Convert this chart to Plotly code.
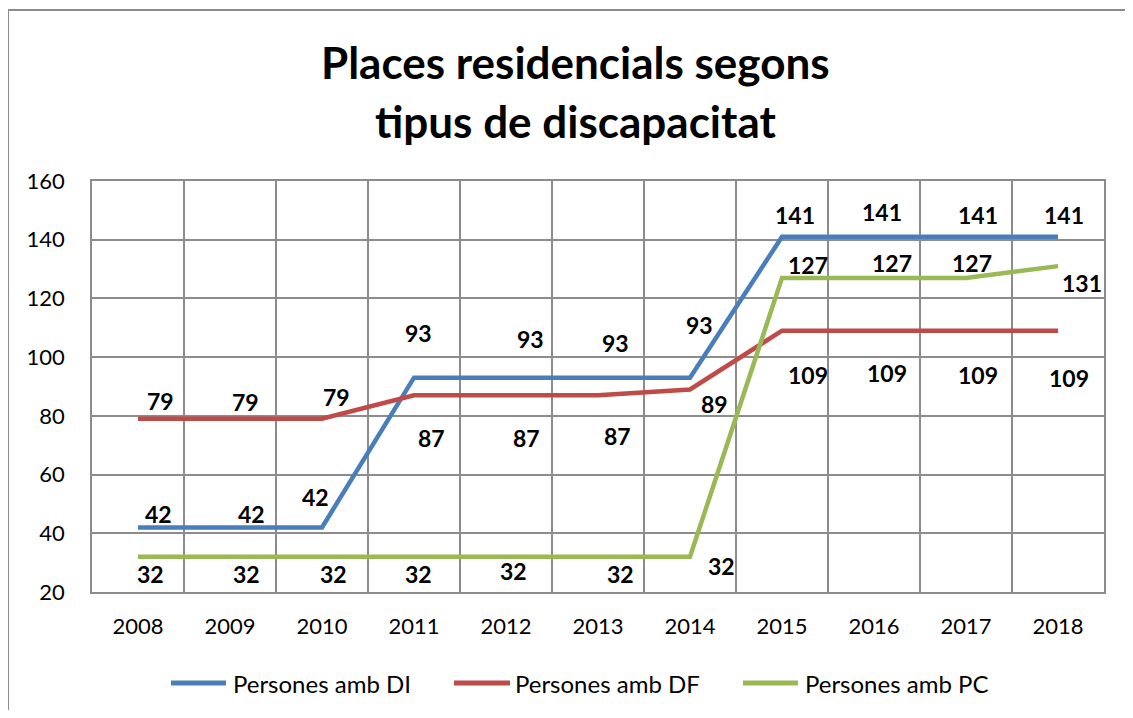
import plotly.graph_objects as go

years = ["2008", "2009", "2010", "2011", "2012", "2013", "2014", "2015", "2016", "2017", "2018"]
di_values = [42, 42, 42, 93, 93, 93, 93, 141, 141, 141, 141]
df_values = [79, 79, 79, 87, 87, 87, 89, 109, 109, 109, 109]
pc_values = [32, 32, 32, 32, 32, 32, 32, 127, 127, 127, 131]
series_names = ["Persones amb DI", "Persones amb DF", "Persones amb PC"]
title_lines = ["Places residencials segons", "tipus de discapacitat"]
y_ticks = [20, 40, 60, 80, 100, 120, 140, 160]

# label offsets in pixels (dx right, dy down) relative to each point
di_off = [(20, -13), (21, -13), (-7, -30), (4, -45), (24, -39), (17, -35), (9, -53),
          (13, -22), (8, -25), (12, -22), (6, -22)]
df_off = [(22, -18), (15, -17), (14, -22), (17, 43), (20, 43), (19, 41), (24, 15),
          (26, 44), (13, 42), (12, 44), (11, 47)]
pc_off = [(12, 17), (16, 17), (11, 17), (4, 17), (7, 14), (22, 17), (31, 9),
          (26, -13), (18, -15), (6, -15), (24, 17)]

colors = ["#4A7EBB", "#BE4B48", "#98B954"]
FONT = "Lato, 'Open Sans', sans-serif"
GRID = "#8C8C8C"

# page is drawn with an 8px body margin, so the figure is 16px smaller than the window
PAGE_OFF = 8
W, H = 1133 - 2 * PAGE_OFF, 718 - 2 * PAGE_OFF
PL, PR, PT, PB = 92, 1104, 181, 592          # plot area in page pixels
ML, MT = PL - PAGE_OFF, PT - PAGE_OFF
MR, MB = W - (PR - PAGE_OFF), H - (PB - PAGE_OFF)
PW, PH = PR - PL, PB - PT

def px_x(p):
    return (p - PL) / PW

def px_y(p):
    return (PB - p) / PH

fig = go.Figure()
all_vals = [di_values, df_values, pc_values]
all_off = [di_off, df_off, pc_off]
for name, vals, col in zip(series_names, all_vals, colors):
    fig.add_trace(go.Scatter(x=years, y=vals, mode="lines", name=name,
                             line=dict(color=col, width=4.5), showlegend=False,
                             hoverinfo="x+y+name"))

annotations = []
for vals, offs in zip(all_vals, all_off):
    for i, (v, (dx, dy)) in enumerate(zip(vals, offs)):
        annotations.append(dict(x=i, y=v, xref="x", yref="y", text=str(v),
                                showarrow=False, xshift=dx, yshift=-dy,
                                font=dict(family=FONT, size=23, color="black", weight="bold")))

# custom legend
legend_items = [(171, 226, 231), (454, 510, 513), (743, 798, 803)]
shapes = []
leg_y = px_y(683)
for (x0, x1, xt), name, col in zip(legend_items, series_names, colors):
    shapes.append(dict(type="line", xref="paper", yref="paper", x0=px_x(x0), x1=px_x(x1),
                       y0=leg_y, y1=leg_y, line=dict(color=col, width=5)))
    annotations.append(dict(x=px_x(xt), y=leg_y, xref="paper", yref="paper", text=name,
                            showarrow=False, xanchor="left", yanchor="middle",
                            font=dict(family=FONT, size=24, color="black")))

# title lines
for line, yc in zip(title_lines, [62, 121]):
    annotations.append(dict(x=px_x(575), y=px_y(yc), xref="paper", yref="paper", text=line,
                            showarrow=False, xanchor="center", yanchor="middle",
                            font=dict(family=FONT, size=44, color="black", weight="bold")))

# outer chart border
shapes.append(dict(type="rect", xref="paper", yref="paper", x0=px_x(8), x1=px_x(1160),
                   y0=px_y(740), y1=px_y(10), line=dict(color="#8C8C8C", width=2),
                   fillcolor="rgba(0,0,0,0)", layer="below"))

fig.update_layout(
    width=W, height=H,
    margin=dict(l=ML, r=MR, t=MT, b=MB, pad=0),
    paper_bgcolor="white", plot_bgcolor="white",
    annotations=annotations, shapes=shapes,
    xaxis=dict(type="category", range=[-0.5, 10.5], tickson="boundaries",
               showgrid=True, gridcolor=GRID, gridwidth=1.5,
               showline=True, linecolor=GRID, linewidth=1.5, mirror=True,
               ticks="", ticklabelstandoff=14,
               tickfont=dict(family=FONT, size=22, color="black")),
    yaxis=dict(range=[20, 160], tickvals=y_ticks, showgrid=True, gridcolor=GRID,
               gridwidth=1.5, showline=True, linecolor=GRID, linewidth=1.5, mirror=True,
               zeroline=False, ticks="", ticklabelstandoff=21,
               tickfont=dict(family=FONT, size=22, color="black")),
)

fig.write_html("out.html")
